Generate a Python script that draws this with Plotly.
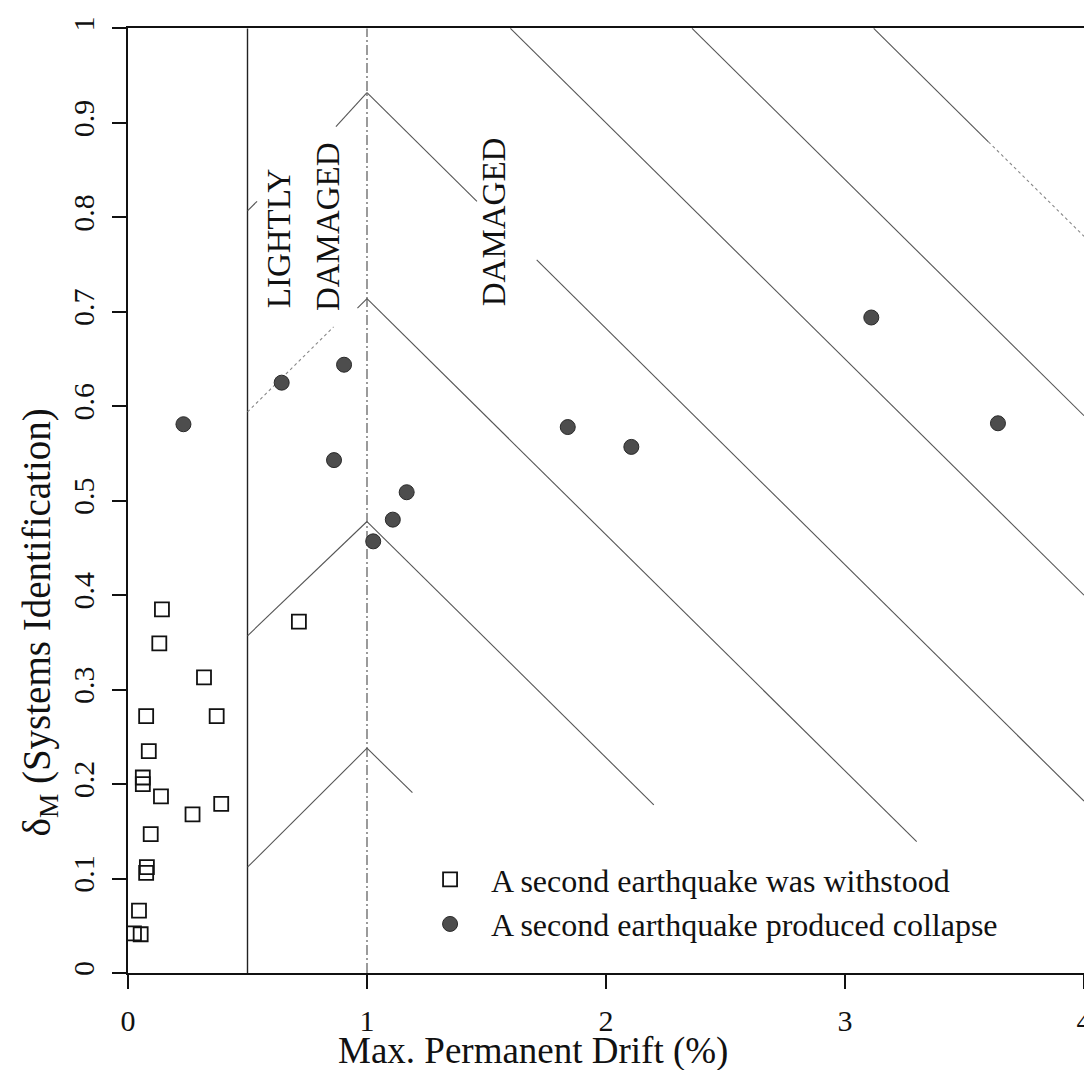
import plotly.graph_objects as go

FONT = "Liberation Serif, Times New Roman, serif"

# open squares: a second earthquake was withstood
withstood_drift = [0.142, 0.131, 0.318, 0.076, 0.371, 0.087, 0.062, 0.062, 0.138, 0.390,
                   0.270, 0.095, 0.079, 0.076, 0.046, 0.053, 0.025, 0.715]
withstood_delta = [0.385, 0.349, 0.313, 0.272, 0.272, 0.235, 0.207, 0.200, 0.187, 0.179,
                   0.168, 0.147, 0.112, 0.106, 0.066, 0.041, 0.042, 0.372]

# filled circles: a second earthquake produced collapse
collapse_drift = [0.232, 0.643, 0.904, 0.862, 1.026, 1.108, 1.166, 1.840, 2.106, 3.110, 3.640]
collapse_delta = [0.581, 0.625, 0.644, 0.543, 0.457, 0.480, 0.509, 0.578, 0.557, 0.694, 0.582]

# zone boundaries (drift %)
zone_edges = [0.5, 1.0]

# hatching of the damage zones, (x0, y0, x1, y1) in axis units
hatch_solid = [
    (0.50, 0.112, 1.00, 0.238), (1.00, 0.238, 1.19, 0.191),
    (0.50, 0.357, 1.00, 0.478), (1.00, 0.478, 2.20, 0.178),
    (0.96, 0.704, 1.00, 0.714), (1.00, 0.714, 3.30, 0.139),
    (0.50, 0.807, 0.54, 0.817), (0.87, 0.896, 1.00, 0.932), (1.00, 0.932, 1.46, 0.817),
    (1.71, 0.755, 4.00, 0.182),
    (1.60, 1.000, 4.00, 0.400),
    (2.36, 1.000, 4.00, 0.590),
    (3.12, 1.000, 3.60, 0.880),
]
hatch_faint = [
    (0.50, 0.594, 0.86, 0.684),
    (3.60, 0.880, 4.00, 0.780),
]

zone_labels = ["LIGHTLY", "DAMAGED", "DAMAGED"]
zone_label_x = [0.632, 0.838, 1.532]
zone_label_y = [0.778, 0.790, 0.795]

x_ticks = [0, 1, 2, 3, 4]
y_ticks = [0, 0.1, 0.2, 0.3, 0.4, 0.5, 0.6, 0.7, 0.8, 0.9, 1]


def segments(segs):
    xs, ys = [], []
    for x0, y0, x1, y1 in segs:
        xs += [x0, x1, None]
        ys += [y0, y1, None]
    return xs, ys


fig = go.Figure()

# zone boundaries
fig.add_trace(go.Scatter(
    x=[zone_edges[0], zone_edges[0]], y=[0, 1], mode="lines",
    line=dict(color="#222", width=1.4), showlegend=False, hoverinfo="skip"))
fig.add_trace(go.Scatter(
    x=[zone_edges[1], zone_edges[1]], y=[0, 1], mode="lines",
    line=dict(color="#666", width=1.3, dash="10px,3px,2px,3px"), showlegend=False, hoverinfo="skip"))

hx, hy = segments(hatch_solid)
fig.add_trace(go.Scatter(
    x=hx, y=hy, mode="lines", line=dict(color="#555", width=1.1),
    showlegend=False, hoverinfo="skip"))
fx, fy = segments(hatch_faint)
fig.add_trace(go.Scatter(
    x=fx, y=fy, mode="lines", line=dict(color="#888", width=1.1, dash="dot"),
    showlegend=False, hoverinfo="skip"))

fig.add_trace(go.Scatter(
    x=withstood_drift, y=withstood_delta, mode="markers",
    name="A second earthquake was withstood",
    marker=dict(symbol="square-open", size=14, color="#111", line=dict(width=1.8))))
fig.add_trace(go.Scatter(
    x=collapse_drift, y=collapse_delta, mode="markers",
    name="A second earthquake produced collapse",
    marker=dict(symbol="circle", size=15, color="#4d4d4d", line=dict(color="#2a2a2a", width=1))))

for txt, lx, ly in zip(zone_labels, zone_label_x, zone_label_y):
    fig.add_annotation(x=lx, y=ly, text=txt, textangle=-90, showarrow=False,
                       font=dict(family=FONT, size=33, color="#111"))

# axis titles
fig.add_annotation(xref="paper", yref="paper", x=0.424, y=-0.0825, yanchor="middle",
                   text="Max. Permanent Drift (%)", showarrow=False,
                   font=dict(family=FONT, size=37, color="#111"))
fig.add_annotation(xref="paper", yref="paper", x=-0.093, y=0.371, xanchor="center",
                   text="δ<sub>M</sub> (Systems Identification)", textangle=-90, showarrow=False,
                   font=dict(family=FONT, size=39, color="#111"))

axis_common = dict(
    showline=True, linecolor="#111", linewidth=2, mirror=True,
    showgrid=False, zeroline=False, ticks="outside", ticklen=14, tickwidth=2,
    tickcolor="#111", tickfont=dict(family=FONT, size=30, color="#111"),
)

fig.update_xaxes(range=[0, 4], tickvals=x_ticks, ticklabelstandoff=6, **axis_common)
fig.update_yaxes(range=[0, 1.0005], tickvals=y_ticks, tickangle=-90, ticklabelstandoff=6,
                 ticklabeloverflow="allow", **axis_common)

fig.update_layout(
    width=1092, height=1070,
    margin=dict(l=120, r=8, t=11, b=105),
    plot_bgcolor="white", paper_bgcolor="white",
    font=dict(family=FONT, color="#111"),
    legend=dict(x=0.294, y=0.128, xanchor="left", yanchor="top", itemwidth=72,
                font=dict(family=FONT, size=32, color="#111"),
                bgcolor="rgba(0,0,0,0)", tracegroupgap=0),
)

fig.write_html("out.html")
